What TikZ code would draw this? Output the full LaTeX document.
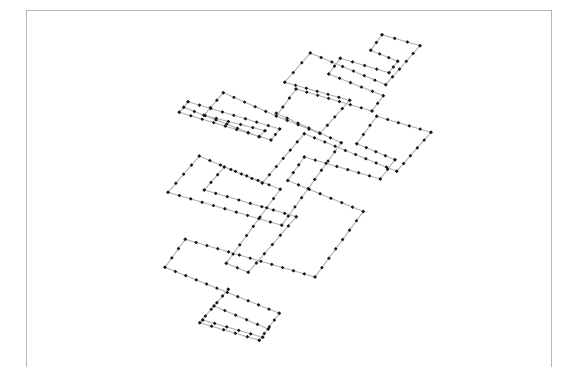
\documentclass[tikz,border=0pt]{standalone}
\pgfdeclarelayer{wires}
\pgfsetlayers{wires,main}
\tikzset{
  wire/.style={draw=black!28,line width=0.8pt},
  vx/.style={circle,fill=black!90,inner sep=0pt,minimum size=2.8pt},
  dotn/.style={circle,fill=black!90,inner sep=0pt,minimum size=2.6pt},
  framel/.style={draw=black!28,line width=0.75pt}
}
\newcommand{\seg}[3]{%
  \begin{pgfonlayer}{wires}
  \draw[wire] (#1.center) -- (#2.center);
  \end{pgfonlayer}
  \ifnum#3>0
    \foreach \k in {1,...,#3}{%
      \pgfmathsetmacro{\pp}{\k/(#3+1)}
      \path (#1.center) -- (#2.center) node[dotn,pos=\pp,name=#1-#2-\k]{};
    }
  \fi
}
\begin{document}
\begin{tikzpicture}[x=0.75pt,y=-0.75pt]
\useasboundingbox (0,0) rectangle (574,367);
\coordinate (f1) at (26.5,367);
\coordinate (f2) at (26.5,10.5);
\coordinate (f3) at (551.5,10.5);
\coordinate (f4) at (551.5,367);
\draw[framel] (f1) -- (f2) -- (f3) -- (f4);
\foreach \n/\x/\y in {
 a1/310.3/53, a2/385.7/84.7, a3/420/45.7, a4/382/34.7, a5/370.7/50.3, a6/397.7/61.3,
 a7/389/72.7, a8/340.3/58.3, a9/328.7/74, a10/383.3/95.7, a11/372/111, a12/296/89,
 a13/276.3/116, a14/284.7/82.3, a15/349.7/100.3, t1/276.3/113.3, t2/341.3/142.7,
 c1/223.3/92.7, c2/204/115.3, c3/265/130.7, c4/259/136.7, c5/183.7/107.3, c6/188/101.7,
 c7/279.7/129, c8/271/140, c9/179.3/112.3,
 b1/320/133.5, b2/304.3/133.7, b3/396.7/171.3, b4/431/132.3, b5/376.7/116.3, b6/356.7/143.7,
 b7/395/159.7, b8/380.3/179, b9/304.3/157, b10/287.7/180.5, b11/363.3/211.5, b12/315/277,
 b13/185.3/239.3, b14/165/267.3, b15/279.3/313.3,
 d1/259.3/340.3, e1/228.3/289.3, e2/199.7/322.7, e3/214/306, e4/268.3/329, e5/202.7/320, e6/262.7/337.3,
 f0/281.7/225.3, g1/199.3/156, g2/262.3/183, g3/224.3/167, g4/280.3/189.3, g5/204.3/190,
 g6/168/192.3, h1/296.3/216.7, i1/226.3/263.3, j1/248.3/272.3}{
  \node[vx] (\n) at (\x,\y) {};
}
\seg{a1}{a2}{6}\seg{a2}{a3}{4}\seg{a3}{a4}{2}\seg{a4}{a5}{1}\seg{a5}{a6}{2}\seg{a6}{a7}{1}
\seg{a7}{a8}{3}\seg{a8}{a9}{1}\seg{a9}{a10}{4}\seg{a10}{a11}{1}\seg{a11}{a12}{6}\seg{a12}{a13}{2}
\seg{a1}{a14}{2}\seg{a14}{a15}{5}\seg{a15}{b1}{3}\seg{t1}{t2}{5}\seg{a13}{b1}{3}
\seg{a13}{c1}{4}\seg{c1}{c2}{2}\seg{c2}{c3}{4}\seg{c3}{c4}{0}\seg{c4}{c5}{6}\seg{c5}{c6}{0}
\seg{c6}{c7}{7}\seg{c7}{c8}{1}\seg{c8}{c9}{7}\seg{c9}{c5}{0}
\seg{b2}{b3}{8}\seg{b3}{b4}{4}\seg{b4}{b5}{4}\seg{b5}{b6}{2}\seg{b6}{b7}{3}\seg{b7}{b8}{1}
\seg{b8}{b9}{6}\seg{b9}{b10}{2}\seg{b10}{b11}{6}\seg{b11}{b12}{6}\seg{b12}{b13}{11}
\seg{b13}{b14}{2}\seg{b14}{b15}{10}\seg{b15}{d1}{3}
\seg{e1}{e2}{4}\seg{e3}{e4}{4}\seg{e2}{d1}{4}\seg{e5}{e6}{4}
\seg{t2}{f0}{8}\seg{g1}{g2}{5}\seg{g2}{b2}{5}\seg{g3}{g4}{4}\seg{g3}{g5}{2}\seg{g5}{h1}{7}
\seg{g1}{g6}{3}\seg{g6}{f0}{9}\seg{g4}{i1}{7}\seg{i1}{j1}{1}\seg{j1}{h1}{5}
\end{tikzpicture}
\end{document}
